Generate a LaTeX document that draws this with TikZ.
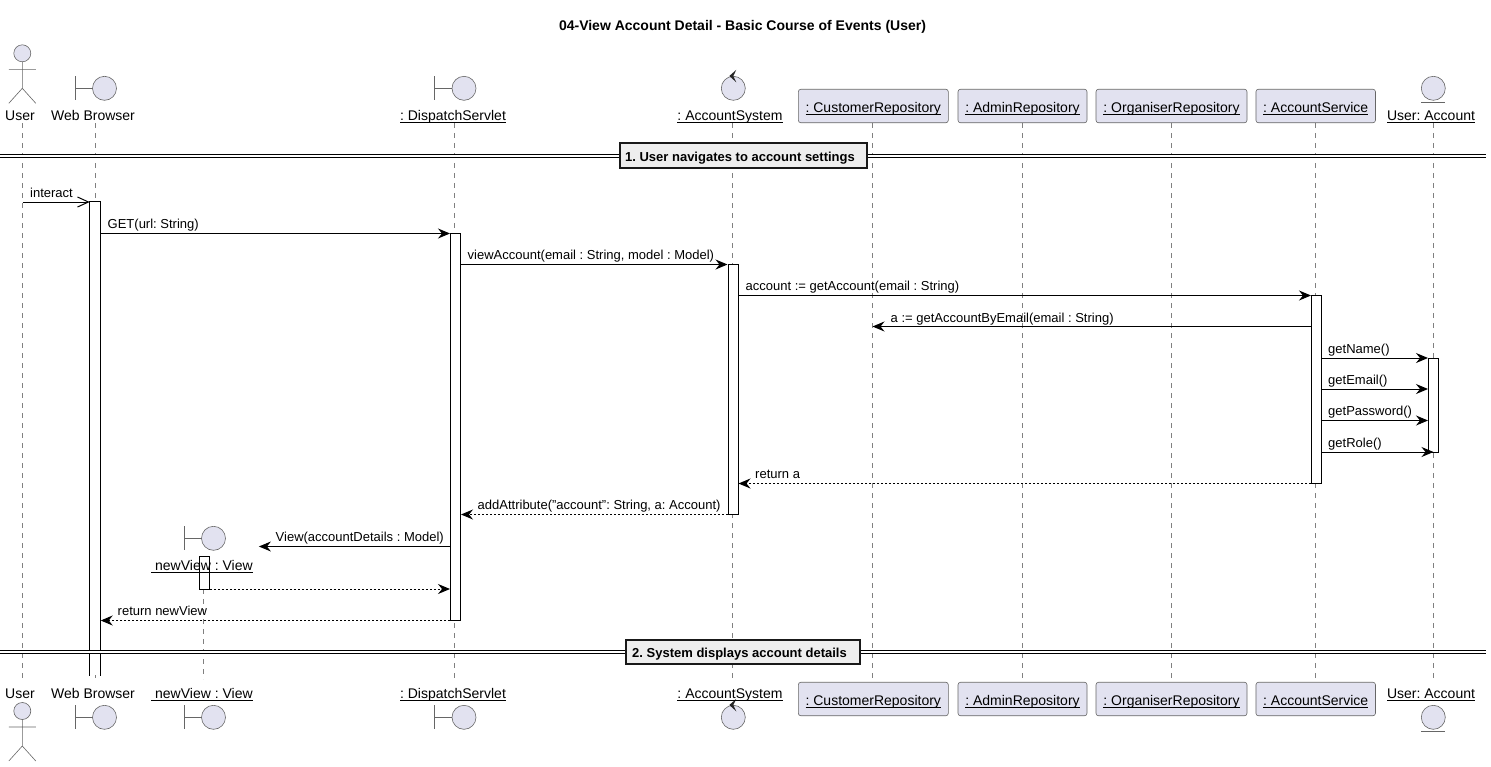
\documentclass[tikz,border=0pt]{standalone}
\usepackage{fontspec}
\setmainfont{Liberation Sans}
\usetikzlibrary{arrows.meta}
\definecolor{iconfill}{HTML}{E2E2F0}
\definecolor{iconline}{HTML}{666666}
\definecolor{lifegray}{HTML}{808080}
\definecolor{secfill}{HTML}{EEEEEE}
\frenchspacing
\newcommand{\ulbl}[1]{\setbox0\hbox{#1}\rlap{\rule[-2.6pt]{\wd0}{1pt}}\box0}
\tikzset{
  lifeline/.style={draw=lifegray, line width=0.5pt, dash pattern=on 5pt off 5pt},
  icon/.style={draw=iconline, line width=0.6pt, fill=iconfill},
  headtext/.style={anchor=base, inner sep=0pt, font=\fontsize{14}{16}\selectfont},
  msgtext/.style={anchor=base west, inner sep=0pt, font=\fontsize{13}{15}\selectfont},
  repobox/.style={draw=iconline, line width=0.6pt, fill=iconfill, rounded corners=2.5pt, inner sep=0pt,
    minimum height=33.5pt, text height=14pt, text depth=2pt, font=\fontsize{14}{16}\selectfont},
  actbar/.style={draw=black, line width=1pt, fill=white, minimum width=10pt, inner sep=0pt},
  msg/.style={draw=black, line width=1pt, -{Stealth[length=12pt,width=10pt,inset=4pt]}},
  reply/.style={msg, dash pattern=on 2pt off 2pt},
  opened/.style={draw=black, line width=1pt, -{Straight Barb[length=11pt,width=10pt]}},
  divider/.style={draw=black, line width=0.9pt, double=white, double distance=1.4pt},
  secbox/.style={draw=black!90, line width=1.8pt, fill=secfill, inner sep=0pt,
    text height=12pt, text depth=1.5pt, font=\fontsize{13}{15}\selectfont\bfseries},
  actoricon/.pic={
    \draw[icon] (0,0) circle (8.5pt);
    \draw[icon, fill=none] (0,8.5) -- (0,35) (-13.5,16) -- (13.5,16) (-13.5,50) -- (0,35) -- (13.5,50);
  },
  boundaryicon/.pic={
    \draw[icon, fill=none] (-29.5,-12) -- (-29.5,12) (-29.5,0) -- (-12,0);
    \draw[icon] (0,0) circle (12pt);
  },
  controlicon/.pic={
    \draw[icon] (0,0) circle (12pt);
    \fill[black!85] (-4,-12.3) -- (3,-18.5) -- (0,-12.3) -- (3,-6) -- cycle;
  },
  entityicon/.pic={
    \draw[icon] (0,0) circle (12pt);
    \draw[icon, fill=none] (-12,14) -- (12,14);
  }
}
\begin{document}
\begin{tikzpicture}[x=1pt, y=-1pt]
\useasboundingbox (0,0) rectangle (1491,766);
\node[anchor=base, inner sep=0pt, font=\fontsize{14}{16}\selectfont\bfseries] (title) at (742.5,30) {04-View Account Detail - Basic Course of Events (User)};
% lifelines
\foreach \who/\xpos in {user/22.5,web/95.5,disp/454.5,sys/732.5,cust/872.5,admin/1022.5,org/1171.5,serv/1315.5,acc/1433.5}{
  \coordinate (\who Top) at (\xpos,123);
  \coordinate (\who Bot) at (\xpos,679);
  \draw[lifeline] (\who Top) -- (\who Bot);
}
% message rows
\foreach \row/\ypos in {Interact/202,Get/233.5,View/264.5,Account/295.5,Byemail/326.5,Name/358,Email/389,Password/420.5,Role/452,Reta/483.5,Attr/514.5,Create/546.5,Back/589,Retview/620.5}{
  \coordinate (row\row) at (0,\ypos);
}
% top heads
\pic at (22.3,53.3) {actoricon};
\pic at (104.5,88.3) {boundaryicon};
\pic at (213.5,538.3) {boundaryicon};
\pic at (464,88.3) {boundaryicon};
\pic at (733.3,88.3) {controlicon};
\pic at (1433.3,88.3) {entityicon};
\node[headtext] (userHead) at (20,120) {User};
\node[headtext] (webHead) at (93,120) {Web Browser};
\node[headtext] (dispHead) at (453,120) {\ulbl{: DispatchServlet}};
\node[headtext] (sysHead) at (730,120) {\ulbl{: AccountSystem}};
\node[repobox, minimum width=150pt] (custHead) at (873.3,106) {\ulbl{: CustomerRepository}};
\node[repobox, minimum width=129pt] (adminHead) at (1022.5,106) {\ulbl{: AdminRepository}};
\node[repobox, minimum width=151pt] (orgHead) at (1171.5,106) {\ulbl{: OrganiserRepository}};
\node[repobox, minimum width=119.5pt] (servHead) at (1315.7,106) {\ulbl{: AccountService}};
\node[headtext] (accHead) at (1431,120) {\ulbl{User: Account}};
% bottom heads
\pic at (22.3,711) {actoricon};
\pic at (104.5,717.3) {boundaryicon};
\pic at (213.5,717.3) {boundaryicon};
\pic at (464,717.3) {boundaryicon};
\pic at (733.3,717.3) {controlicon};
\pic at (1433.3,717.3) {entityicon};
\node[headtext] (userFoot) at (20,698) {User};
\node[headtext] (webFoot) at (93,698) {Web Browser};
\node[headtext] (viewFoot) at (202,698) {\ulbl{\ newView : View}};
\node[headtext] (dispFoot) at (453,698) {\ulbl{: DispatchServlet}};
\node[headtext] (sysFoot) at (730,698) {\ulbl{: AccountSystem}};
\node[repobox, minimum width=150pt] (custFoot) at (873.3,699) {\ulbl{: CustomerRepository}};
\node[repobox, minimum width=129pt] (adminFoot) at (1022.5,699) {\ulbl{: AdminRepository}};
\node[repobox, minimum width=151pt] (orgFoot) at (1171.5,699) {\ulbl{: OrganiserRepository}};
\node[repobox, minimum width=119.5pt] (servFoot) at (1315.7,699) {\ulbl{: AccountService}};
\node[headtext] (accFoot) at (1431,698) {\ulbl{User: Account}};
% activation bars
\node[actbar, minimum height=473pt, draw=none] (barWeb) at (95.2,438.5) {};
\draw[black, line width=1pt] (barWeb.south west) -- (barWeb.north west) -- (barWeb.north east) -- (barWeb.south east);
\node[actbar, minimum height=387pt] (barDisp) at (455.5,427) {};
\node[actbar, minimum height=250pt] (barSys) at (733,389.5) {};
\node[actbar, minimum height=188pt] (barServ) at (1316.5,389.5) {};
\node[actbar, minimum height=94pt] (barAcc) at (1433.5,405) {};
\coordinate (viewTop) at (203.7,589);
\coordinate (viewBot) at (203.7,679);
\draw[lifeline] (viewTop) -- (viewBot);
\node[actbar, minimum height=32.5pt] (barView) at (204.3,573) {};
\node[headtext] (viewHead) at (202,570) {\ulbl{\ newView : View}};
% messages
\draw[opened] (userTop |- rowInteract) -- (barWeb.west |- rowInteract);
\node[msgtext] (txtInteract) at (30,197) {interact};
\draw[msg] (barWeb.east |- rowGet) -- (barDisp.west |- rowGet);
\node[msgtext] (txtGet) at (107.5,228) {GET(url: String)};
\draw[msg] (barDisp.east |- rowView) -- (barSys.west |- rowView);
\node[msgtext] (txtView) at (467.5,259) {viewAccount(email : String, model : Model)};
\draw[msg] (barSys.east |- rowAccount) -- (barServ.west |- rowAccount);
\node[msgtext] (txtAccount) at (745.5,290) {account := getAccount(email : String)};
\draw[msg] (barServ.west |- rowByemail) -- (custTop |- rowByemail);
\node[msgtext] (txtByemail) at (890.5,322) {a := getAccountByEmail(email : String)};
\draw[msg] (barServ.east |- rowName) -- (barAcc.west |- rowName);
\node[msgtext] (txtName) at (1328,353) {getName()};
\draw[msg] (barServ.east |- rowEmail) -- (barAcc.west |- rowEmail);
\node[msgtext] (txtEmail) at (1328,384) {getEmail()};
\draw[msg] (barServ.east |- rowPassword) -- (barAcc.west |- rowPassword);
\node[msgtext] (txtPassword) at (1328,415) {getPassword()};
\draw[msg] (barServ.east |- rowRole) -- (barAcc.center |- rowRole);
\node[msgtext] (txtRole) at (1328,447) {getRole()};
\draw[reply] (barServ.west |- rowReta) -- (barSys.east |- rowReta);
\node[msgtext] (txtReta) at (755,478) {return a};
\draw[reply] (barSys.west |- rowAttr) -- (barDisp.east |- rowAttr);
\node[msgtext] (txtAttr) at (477.5,509) {addAttribute("account": String, a: Account)};
\draw[msg] (barDisp.west |- rowCreate) -- ([xshift=6pt]viewHead.east |- rowCreate);
\node[msgtext] (txtCreate) at (275.5,541) {View(accountDetails : Model)};
\draw[reply] (barView.east |- rowBack) -- (barDisp.west |- rowBack);
\draw[reply] (barDisp.west |- rowRetview) -- (barWeb.east |- rowRetview);
\node[msgtext] (txtRetview) at (117.5,615) {return newView};
% sections
\coordinate (secOneL) at (0,156);
\coordinate (secOneR) at (1486,156);
\coordinate (secTwoL) at (0,652);
\coordinate (secTwoR) at (1486,652);
\draw[divider] (secOneL) -- (secOneR);
\draw[divider] (secTwoL) -- (secTwoR);
\node[secbox, minimum width=247pt, minimum height=25pt] (secOne) at (743.5,155.8) {1. User navigates to account settings\kern7pt};
\node[secbox, minimum width=234pt, minimum height=24pt] (secTwo) at (743,652) {2. System displays account details\kern7pt};
\end{tikzpicture}
\end{document}
